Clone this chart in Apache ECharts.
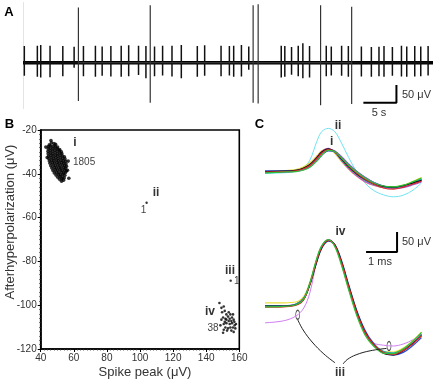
<!DOCTYPE html>
<html>
<head>
<meta charset="utf-8">
<script src="https://cdn.jsdelivr.net/npm/echarts@6/dist/echarts.min.js"></script>
<style>
html, body { margin: 0; padding: 0; background: #fff; }
#main { width: 437px; height: 384px; }
</style>
</head>
<body>
<div id="main"></div>
<script>
// ---- panel A : raw trace (time in s, amplitude in uV) ----
var spikeT = [0.2, 2.17, 2.68, 4.09, 6.02, 7.73, 9.14, 10.95, 11.97, 13.29, 14.85, 15.98, 17.47, 18.59, 19.89,
	21.11, 22.53, 23.94, 26.36, 27.47, 29.95, 31.21, 31.86, 33.03, 34.14, 39.05, 39.59, 40.61, 41.62, 42.32,
	43.33, 45.86, 46.62, 48.18, 49.2, 51.17, 52.68, 53.83, 54.59, 55.86, 57.23, 58.03, 59.24, 60.15, 61.26];
var spikeUp = [47, 48, 50, 48, 47, 45, 47, 48, 46, 47, 48, 49, 48, 47, 46,
	48, 48, 50, 47, 49, 48, 47, 48, 50, 46, 48, 47, 44, 48, 55,
	47, 48, 46, 48, 47, 46, 44, 45, 47, 44, 48, 46, 47, 46, 47];
var spikeDown = [-37, -40, -42, -41, -38, -14, -38, -40, -37, -39, -40, -38, -35, -44, -38,
	-36, -39, -44, -40, -37, -38, -36, -40, -39, -20, -42, -40, -34, -38, -44,
	-42, -38, -36, -37, -40, -39, -40, -38, -40, -37, -39, -40, -39, -38, -36];
var bigT = [8.38, 19.24, 34.8, 35.56, 45.0, 49.7];
var bigUp = [156, 162, 162, 165, 162, 158];
var bigDown = [-108, -113, -113, -115, -120, -117];

// ---- panel B : spike peak vs afterhyperpolarization ----
var clusterI = [
	[46.5,-25.8],[48,-26.2],[45.2,-26.8],[49,-26.5],
	[44.6,-27.6],[46,-27.2],[47.4,-27.4],[48.8,-27.3],[50.2,-27.8],
	[44.5,-28.6],[45.9,-28.3],[47.3,-28.5],[48.7,-28.2],[50.1,-28.6],[51.5,-28.9],
	[44.4,-29.7],[45.8,-29.4],[47.2,-29.6],[48.6,-29.3],[50,-29.6],[51.4,-29.5],[52.5,-30],
	[44.5,-30.8],[45.9,-30.5],[47.3,-30.7],[48.7,-30.4],[50.1,-30.8],[51.5,-30.5],[52.8,-30.9],
	[44.7,-31.9],[46.1,-31.6],[47.5,-31.8],[48.9,-31.5],[50.3,-31.9],[51.7,-31.6],[53.1,-31.9],[54.3,-32.2],
	[44.9,-33],[46.3,-32.7],[47.7,-32.9],[49.1,-32.6],[50.5,-33],[51.9,-32.7],[53.3,-33],[54.7,-33.2],
	[45.2,-34.1],[46.6,-33.8],[48,-34],[49.4,-33.7],[50.8,-34.1],[52.2,-33.8],[53.6,-34.1],[55,-34.3],
	[45.6,-35.2],[47,-34.9],[48.4,-35.1],[49.8,-34.8],[51.2,-35.2],[52.6,-34.9],[54,-35.2],[55.3,-35.4],
	[46.1,-36.3],[47.5,-36],[48.9,-36.2],[50.3,-35.9],[51.7,-36.3],[53.1,-36],[54.5,-36.3],[55.6,-36.6],
	[46.7,-37.4],[48.1,-37.1],[49.5,-37.3],[50.9,-37],[52.3,-37.4],[53.7,-37.1],[55,-37.5],
	[47.4,-38.5],[48.8,-38.2],[50.2,-38.4],[51.6,-38.1],[53,-38.5],[54.4,-38.2],[55.5,-38.7],
	[48.2,-39.6],[49.6,-39.3],[51,-39.5],[52.4,-39.2],[53.8,-39.6],[55,-39.4],
	[49.2,-40.6],[50.6,-40.3],[52,-40.5],[53.4,-40.2],[54.6,-40.7],
	[50.3,-41.6],[51.7,-41.3],[53.1,-41.5],[54.2,-41.9],
	[51.4,-42.5],[52.8,-42.3],[53.8,-42.9],
	[52.6,-43.4],
	[43.1,-27.8],[57,-42],[46.2,-24.8],[56.6,-34.2],[43.9,-32.6],[56.2,-38.4]
];
var clusterIV = [
	[148,-99],[149.2,-101.2],[150.6,-100.6],[149.6,-103.2],[151.2,-102.6],[152.2,-104.2],[150.2,-105.6],
	[151.6,-106.2],[153.2,-105.2],[154.6,-104.2],[155.6,-105.6],[156.6,-106.6],[153.6,-107.2],[152.2,-108.2],
	[154.2,-108.6],[155.6,-108.2],[157,-107.6],[158,-108.6],[150.6,-108.6],[151.6,-110.2],[153.2,-110.6],
	[154.6,-110.2],[156.2,-110.2],[157.6,-110.6],[155.2,-111.6],[156.6,-112.2],[150.2,-112.6],[152.6,-111.6],
	[149.2,-106.6],[148.6,-109.2],[153.6,-103.2],[156.2,-104.2],[151.2,-107.6],[154.2,-106.2],[157.2,-109.2],
	[152.2,-106.6],[155.2,-107.2],[150.6,-111.2]
];
var pointII = [[104, -53.2]];
var pointIII = [[154.8, -88.8]];

// ---- panel C : waveforms (time in ms, uV from baseline) ----
var wfT = [0, 0.6, 1.0, 1.25, 1.45, 1.67, 1.83, 2.04, 2.25, 2.47, 2.7, 2.96, 3.23, 3.5, 3.82, 4.14, 4.46, 4.78, 5.05];
var iGreen   = [-2, 0, 1, 5, 12, 27, 42, 54, 51, 35, 17, 0, -15, -27, -35, -37, -33, -24, -15];
var iRed     = [0, 1, 3, 8, 16, 33, 47, 56, 51, 34, 15, -3, -18, -30, -40, -43, -38, -30, -23];
var iBlue    = [3, 3, 4, 8, 14, 28, 42, 53, 51, 37, 19, 1, -14, -26, -35, -39, -37, -30, -20];
var iMagenta = [-1, 0, 2, 9, 19, 37, 51, 59, 49, 28, 8, -10, -24, -33, -39, -40, -36, -26, -18];
var iYellow  = [1, 3, 6, 13, 23, 40, 53, 58, 47, 26, 7, -11, -25, -33, -38, -38, -33, -23, -14];
var iViolet  = [0, 1, 2, 6, 13, 29, 44, 56, 53, 38, 20, 2, -13, -26, -36, -41, -39, -32, -25];
var iTeal    = [-2, 0, 3, 10, 18, 34, 48, 57, 50, 30, 11, -7, -21, -31, -38, -39, -35, -26, -18];
var iBlack   = [1, 2, 4, 10, 19, 36, 50, 58, 51, 32, 13, -5, -19, -29, -36, -38, -34, -27, -21];
var iiCyan   = [-3, -2, 2, 12, 30, 76, 101, 109, 101, 72, 36, 0, -28, -46, -57, -62, -58, -45, -27];

var ivGreen   = [-2, -1, 3, 18, 58, 119, 151, 166, 149, 101, 40, -24, -73, -100, -118, -119, -107, -87, -66];
var ivRed     = [-3, -2, 2, 16, 55, 114, 147, 164, 152, 108, 48, -16, -66, -96, -116, -121, -111, -94, -74];
var ivBlue    = [1, 1, 5, 20, 55, 110, 144, 162, 154, 113, 53, -11, -61, -93, -116, -123, -116, -98, -79];
var ivYellow  = [8, 8, 10, 24, 61, 119, 150, 165, 150, 103, 42, -22, -72, -99, -114, -115, -105, -86, -65];
var ivMagenta = [0, 0, 4, 19, 56, 116, 149, 166, 152, 106, 45, -19, -69, -98, -117, -119, -109, -91, -70];
var ivTeal    = [1, 0, 4, 19, 57, 115, 148, 165, 152, 107, 47, -17, -67, -96, -113, -117, -109, -92, -71];
var ivOrange  = [-1, 0, 4, 18, 56, 114, 148, 165, 153, 109, 49, -15, -66, -97, -117, -120, -111, -92, -73];
var ivBlack   = [0, 0, 3, 17, 54, 112, 146, 164, 153, 110, 50, -14, -65, -96, -118, -122, -112, -93, -74];
var iiiViolet = [-42, -37, -25, -5, 34, 112, 146, 163, 151, 107, 47, -16, -64, -92, -98, -100, -95, -84, -68];
var iiiMarks = [[1.055, -22], [4.0, -100]];
var iiiLinkLeft = [[1.06, -35], [1.23, -60], [1.52, -90], [1.9, -120], [2.26, -142]];
var iiiLinkRight = [[3.92, -106], [3.39, -112], [2.94, -122], [2.65, -134], [2.52, -145]];

var fontFam = 'Liberation Sans, Arial, sans-serif';

function spikePath(ts, ups, downs) {
	var out = [];
	ts.forEach(function (t, i) {
		out.push([t, 0], [t, ups[i]], [t, downs[i]], [t, 0]);
	});
	return out;
}
function wave(vals) {
	return wfT.map(function (t, i) { return [t, vals[i]]; });
}
function waveSeries(vals, color, grid, width) {
	return {
		type: 'line', xAxisIndex: grid, yAxisIndex: grid, data: wave(vals),
		smooth: 0.35, symbol: 'none', silent: true,
		lineStyle: { color: color, width: width || 1.2 }
	};
}
function txt(text, x, y, size, bold, color, align) {
	return {
		type: 'text', x: x, y: y, silent: true,
		style: {
			text: text, font: (bold ? 'bold ' : '') + size + 'px ' + fontFam,
			fill: color || '#222', align: align || 'center', verticalAlign: 'middle',
			textAlign: align || 'center', textVerticalAlign: 'middle'
		}
	};
}

var hidden = { show: false };
var option = {
	animation: false,
	backgroundColor: '#fff',
	grid: [
		{ left: 23, top: 2.5, width: 410, height: 106.2 },
		{ left: 40.7, top: 130, width: 198.6, height: 219, show: true, borderColor: '#000', borderWidth: 1.6 },
		{ left: 265, top: 112, width: 155, height: 100 },
		{ left: 265, top: 226, width: 155, height: 140 }
	],
	xAxis: [
		{ gridIndex: 0, type: 'value', min: 0, max: 62, show: false },
		{
			gridIndex: 1, type: 'value', min: 40, max: 160, interval: 20,
			axisLine: { lineStyle: { color: '#000', width: 1.6 } },
			axisTick: { show: true, length: 3, lineStyle: { color: '#000' } },
			minorTick: { show: true, splitNumber: 10, length: 1.5, lineStyle: { color: '#333', width: 0.8 } },
			splitLine: hidden,
			axisLabel: { fontSize: 10, color: '#333', fontFamily: fontFam, margin: 4 }
		},
		{ gridIndex: 2, type: 'value', min: 0, max: 5, show: false },
		{ gridIndex: 3, type: 'value', min: 0, max: 5, show: false }
	],
	yAxis: [
		{
			gridIndex: 0, type: 'value', min: -130, max: 170,
			axisLine: { show: true, lineStyle: { color: '#e4e4e4', width: 1 } },
			axisTick: hidden, axisLabel: hidden, splitLine: hidden
		},
		{
			gridIndex: 1, type: 'value', min: -120, max: -20, interval: 20,
			axisLine: { lineStyle: { color: '#000', width: 1.6 } },
			axisTick: { show: true, length: 3, lineStyle: { color: '#000' } },
			minorTick: { show: true, splitNumber: 10, length: 1.5, lineStyle: { color: '#333', width: 0.8 } },
			splitLine: hidden,
			axisLabel: { fontSize: 10, color: '#333', fontFamily: fontFam, margin: 4 }
		},
		{ gridIndex: 2, type: 'value', min: -100, max: 150, show: false },
		{ gridIndex: 3, type: 'value', min: -150, max: 200, show: false }
	],
	series: [
		// A
		{ type: 'line', xAxisIndex: 0, yAxisIndex: 0, data: [[0, 0], [62, 0]], symbol: 'none', silent: true,
			lineStyle: { color: '#000', width: 3.4 } },
		{ type: 'line', xAxisIndex: 0, yAxisIndex: 0, data: spikePath(spikeT, spikeUp, spikeDown), symbol: 'none', silent: true,
			lineStyle: { color: '#111', width: 1.5 } },
		{ type: 'line', xAxisIndex: 0, yAxisIndex: 0, data: spikePath(bigT, bigUp, bigDown), symbol: 'none', silent: true,
			lineStyle: { color: '#333', width: 1.2 } },
		{ type: 'line', xAxisIndex: 0, yAxisIndex: 0, data: [[51.47, -113], [56.47, -113], [56.47, -63]], symbol: 'none', silent: true,
			lineStyle: { color: '#000', width: 2 } },
		// B
		{ type: 'scatter', xAxisIndex: 1, yAxisIndex: 1, data: clusterI, symbolSize: 3.6, silent: true,
			itemStyle: { color: '#000' } },
		{ type: 'scatter', xAxisIndex: 1, yAxisIndex: 1, data: clusterIV, symbolSize: 2.6, silent: true,
			itemStyle: { color: '#000' } },
		{ type: 'scatter', xAxisIndex: 1, yAxisIndex: 1, data: pointII.concat(pointIII), symbolSize: 2.4, silent: true,
			itemStyle: { color: '#000' } },
		// C top: i and ii
		waveSeries(iiCyan, '#6fe3f0', 2, 1),
		waveSeries(iYellow, '#e2d82a', 2),
		waveSeries(iBlue, '#2a48d6', 2),
		waveSeries(iMagenta, '#e040d8', 2),
		waveSeries(iViolet, '#8f62e6', 2),
		waveSeries(iTeal, '#1aaea4', 2),
		waveSeries(iBlack, '#111', 2),
		waveSeries(iRed, '#e02828', 2),
		waveSeries(iGreen, '#2fbf3a', 2),
		// C bottom: iv and iii
		waveSeries(iiiViolet, '#cf7ef0', 3, 1),
		waveSeries(ivYellow, '#eedd40', 3),
		waveSeries(ivOrange, '#f0a030', 3),
		waveSeries(ivBlue, '#2a48d6', 3),
		waveSeries(ivMagenta, '#e040d8', 3),
		waveSeries(ivTeal, '#1aaea4', 3),
		waveSeries(ivBlack, '#111', 3),
		waveSeries(ivRed, '#e02828', 3),
		waveSeries(ivGreen, '#2fbf3a', 3),
		{ type: 'scatter', xAxisIndex: 3, yAxisIndex: 3, data: iiiMarks, symbol: 'circle', symbolSize: [4, 9], silent: true,
			itemStyle: { color: 'rgba(255,255,255,0)', borderColor: '#222', borderWidth: 1 } },
		{ type: 'line', xAxisIndex: 3, yAxisIndex: 3, data: iiiLinkLeft, smooth: 0.4, symbol: 'none', silent: true, clip: false,
			lineStyle: { color: '#222', width: 1 } },
		{ type: 'line', xAxisIndex: 3, yAxisIndex: 3, data: iiiLinkRight, smooth: 0.4, symbol: 'none', silent: true, clip: false,
			lineStyle: { color: '#222', width: 1 } },
		{ type: 'line', xAxisIndex: 3, yAxisIndex: 3, data: [[3.26, 135], [4.26, 135], [4.26, 185]], symbol: 'none', silent: true,
			lineStyle: { color: '#000', width: 2 } }
	],
	graphic: [
		txt('A', 9, 12.5, 13, true, '#000'),
		txt('B', 9.5, 124, 13, true, '#000'),
		txt('C', 259.5, 124, 13, true, '#000'),
		txt('50 μV', 402, 94.5, 11, false, '#333', 'left'),
		txt('5 s', 379, 113, 11, false, '#333'),
		txt('50 μV', 402, 242, 11, false, '#333', 'left'),
		txt('1 ms', 380, 262, 11, false, '#333'),
		// panel B annotations
		txt('i', 75, 143, 12, true, '#333'),
		txt('1805', 73, 162, 10, false, '#444', 'left'),
		txt('ii', 156, 193, 12, true, '#333'),
		txt('1', 143.5, 210, 10, false, '#444'),
		txt('iii', 230, 271, 12, true, '#333'),
		txt('1', 234, 281, 10, false, '#444', 'left'),
		txt('iv', 210, 311.5, 12, true, '#333'),
		txt('38', 213, 328, 10, false, '#444'),
		{
			type: 'text', x: 10, y: 222, rotation: Math.PI / 2, silent: true,
			style: { text: 'Afterhyperpolarization (μV)', font: '13px ' + fontFam, fill: '#333',
				align: 'center', verticalAlign: 'middle', textAlign: 'center', textVerticalAlign: 'middle' }
		},
		txt('Spike peak (μV)', 145, 372, 13, false, '#333'),
		// panel C labels
		txt('ii', 338, 126, 12, true, '#333'),
		txt('i', 331.7, 141.7, 12, true, '#333'),
		txt('iv', 340.5, 231.5, 12, true, '#333'),
		txt('iii', 340, 373, 12, true, '#333')
	]
};

var myChart = echarts.init(document.getElementById('main'));
myChart.setOption(option);
</script>
</body>
</html>
